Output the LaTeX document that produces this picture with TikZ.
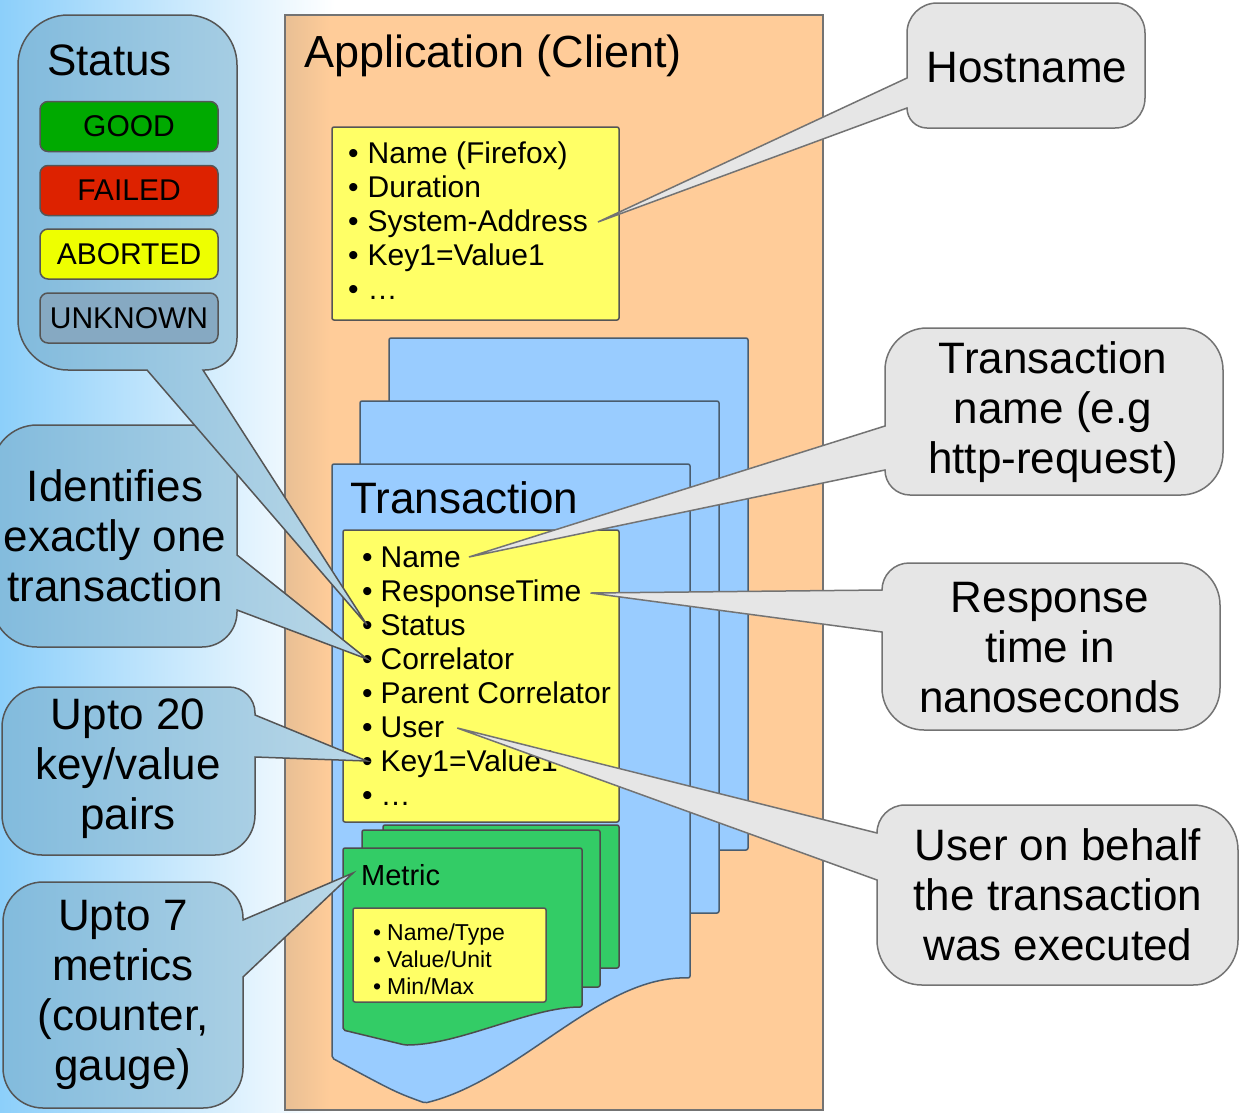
\documentclass[tikz,border=0pt]{standalone}
\usepackage{fontspec}
\setmainfont{Liberation Sans}
\usepackage{tikz}
\usetikzlibrary{calc}

\definecolor{bgblue}{HTML}{8CCFFA}
\definecolor{appfill}{HTML}{FFCC99}
\definecolor{appedge}{HTML}{E8BF94}
\definecolor{notefill}{HTML}{FFFF66}
\definecolor{pagefill}{HTML}{99CCFF}
\definecolor{pageline}{HTML}{4A5C6E}
\definecolor{metricfill}{HTML}{33CC66}
\definecolor{goodfill}{HTML}{00AA00}
\definecolor{failfill}{HTML}{DD2200}
\definecolor{abortfill}{HTML}{EEFF00}
\definecolor{unknownfill}{HTML}{86A9C2}
\definecolor{tipleft}{HTML}{82BBDD}
\definecolor{tipright}{HTML}{BBD8E7}
\definecolor{tipgray}{HTML}{E6E6E6}
\definecolor{edge}{HTML}{555555}

\newcommand\calloutfont{\fontsize{44}{50}\selectfont}

\begin{document}
\begin{tikzpicture}[x=1pt,y=-1pt,
  edgeline/.style={draw=edge,line width=1.5pt},
  notebox/.style={edgeline,fill=notefill,rounded corners=2pt},
  pagebox/.style={draw=pageline,line width=1.5pt,fill=pagefill,rounded corners=2pt},
  metricbox/.style={draw=black!70,line width=1.5pt,fill=metricfill,rounded corners=2pt},
  itemtext/.style={inner sep=0pt,anchor=base west,font=\fontsize{30}{34}\selectfont},
  smalltext/.style={inner sep=0pt,anchor=base west,font=\fontsize{23}{27}\selectfont},
  stat/.style={edgeline,rounded corners=8pt,minimum width=178pt,minimum height=50pt,
    inner sep=0pt,font=\fontsize{30}{32}\selectfont},
  bluetip/.style={edgeline,left color=tipleft,right color=tipright},
  graytip/.style={draw=black!55,line width=1.5pt,fill=tipgray},
  tiptext/.style={align=center,inner sep=0pt,font=\calloutfont}]

\useasboundingbox (0,0) rectangle (1240,1112);
\fill[white] (0,0) rectangle (1240,1112);
\shade[left color=bgblue,right color=white] (0,0) rectangle (335,1112);

% application frame
\fill[appfill] (285,15) rectangle (823,1110);
\shade[left color=appedge,right color=appfill] (285,15) rectangle (330,1110);
\draw[edgeline,draw=black!55] (285,15) rectangle (823,1110);
\node[anchor=base west,inner sep=0pt,font=\fontsize{45}{50}\selectfont] (app) at (304,67) {Application (Client)};

% application attributes
\draw[notebox] (332,127) rectangle (619,320);
\foreach \txt [count=\i, evaluate=\i as \yy using 129+34*\i] in {Name (Firefox), Duration, System-Address, Key1=Value1, \ldots}
  \node[itemtext] (a\i) at (348,\yy) {•\hspace{9pt}\txt};

% stacked transactions
\draw[pagebox] (389,338) rectangle (748,850);
\draw[pagebox] (360,401) rectangle (719,913);
\draw[pagebox] (332,464) -- (690,464) -- (690,978)
  .. controls (600,975) and (520,1080) .. (425,1103)
  .. controls (395,1092) .. (332,1058) -- cycle;
\node[anchor=base west,inner sep=0pt,font=\fontsize{44}{50}\selectfont] (trans) at (350,513) {Transaction};

\draw[notebox] (343,530) rectangle (619,822);
\foreach \txt [count=\i, evaluate=\i as \yy using 533+34*\i] in {Name, ResponseTime, Status, Correlator, Parent Correlator, User, Key1=Value1, \ldots}
  \node[itemtext] (t\i) at (362,\yy) {•\hspace{8pt}\txt};

% stacked metrics
\draw[metricbox] (383,825) rectangle (619,968);
\draw[metricbox] (362,830) rectangle (600,987);
\draw[metricbox] (343,848) -- (582,848) -- (582,1007)
  .. controls (530,1007) and (460,1045) .. (405,1045) -- (343,1030) -- cycle;
\node[anchor=base west,inner sep=0pt,font=\fontsize{29}{34}\selectfont] (metric) at (361,885) {Metric};
\draw[notebox] (353,908) rectangle (546,1002);
\foreach \txt [count=\i, evaluate=\i as \yy using 913+27*\i] in {Name/Type, Value/Unit, Min/Max}
  \node[smalltext] (m\i) at (373,\yy) {•\hspace{6pt}\txt};

% callout tips
\coordinate (pHost) at ($(a3.base east)+(10,-9)$);
\coordinate (pName) at ($(t1.base east)+(8,-10)$);
\coordinate (pResp) at ($(t2.base east)+(9,-8)$);
\coordinate (pUser) at ($(t6.base east)+(13,-9)$);
\coordinate (pStatus) at ($(t3.base west)+(5,-10)$);
\coordinate (pCorr) at ($(t4.base west)+(5,-10)$);
\coordinate (pKey) at ($(t7.base west)+(5,-10)$);
\coordinate (pMetric) at ($(metric.base west)+(-8,-12)$);

% left callouts
\path[bluetip] (pCorr) -- (237,610) [rounded corners=35pt] -- (237,647) [rounded corners=45pt]
  -- (-8,647) -- (-8,425) -- (237,425) [sharp corners] -- (237,555) -- cycle;
\node[tiptext] (ident) at (115,536) {Identifies\\exactly one\\transaction};

\path[bluetip] (pKey) -- (255,757) [rounded corners=40pt] -- (255,855) -- (2,855)
  -- (2,687) [rounded corners=26pt] -- (255,687) [sharp corners] -- (255,715) -- cycle;
\node[tiptext] (pairs) at (128,769) {Upto 20\\key/value\\pairs};

\path[bluetip] (pMetric) -- (243,977) [rounded corners=40pt] -- (243,1108) -- (3,1108)
  -- (3,882) [rounded corners=36pt] -- (243,882) [sharp corners] -- (243,920) -- cycle;
\node[tiptext] (metrics) at (123,995) {Upto 7\\metrics\\(counter,\\gauge)};

\path[bluetip] (pStatus) -- (147,370) [rounded corners=50pt] -- (18,370) -- (18,15)
  -- (237,15) [rounded corners=32pt] -- (237,370) [sharp corners] -- (203,370) -- cycle;
\node[anchor=base west,inner sep=0pt,font=\fontsize{44}{50}\selectfont] (status) at (47,75) {Status};
\node[stat,fill=goodfill] (good) at (129,126.5) {GOOD};
\node[stat,fill=failfill] (failed) at (129,190.5) {FAILED};
\node[stat,fill=abortfill] (aborted) at (129,254) {ABORTED};
\node[stat,fill=unknownfill] (unknown) at (129,318) {UNKNOWN};

% right callouts
\path[graytip] (pHost) -- (907,78) [rounded corners=30pt] -- (907,3) -- (1145,3)
  -- (1145,128) [rounded corners=20pt] -- (907,128) [sharp corners] -- (907,108) -- cycle;
\node[tiptext] (host) at (1027,68) {Hostname};

\path[graytip] (pName) -- (885,426) [rounded corners=42pt] -- (885,328) -- (1223,328)
  -- (1223,495) [rounded corners=25pt] -- (885,495) [sharp corners] -- (885,470) -- cycle;
\node[tiptext] (tname) at (1053,412) {Transaction\\name (e.g\\http-request)};

\path[graytip] (pResp) -- (882,590) [rounded corners=27pt] -- (882,563) [rounded corners=42pt]
  -- (1220,563) -- (1220,730) -- (882,730) [sharp corners] -- (882,632) -- cycle;
\node[tiptext] (resp) at (1050,648) {Response\\time in\\nanoseconds};

\path[graytip] (pUser) -- (877,833) [rounded corners=28pt] -- (877,805) [rounded corners=45pt]
  -- (1238,805) -- (1238,985) -- (877,985) [sharp corners] -- (877,880) -- cycle;
\node[tiptext] (user) at (1058,895) {User on behalf\\the transaction\\was executed};
\end{tikzpicture}
\end{document}
